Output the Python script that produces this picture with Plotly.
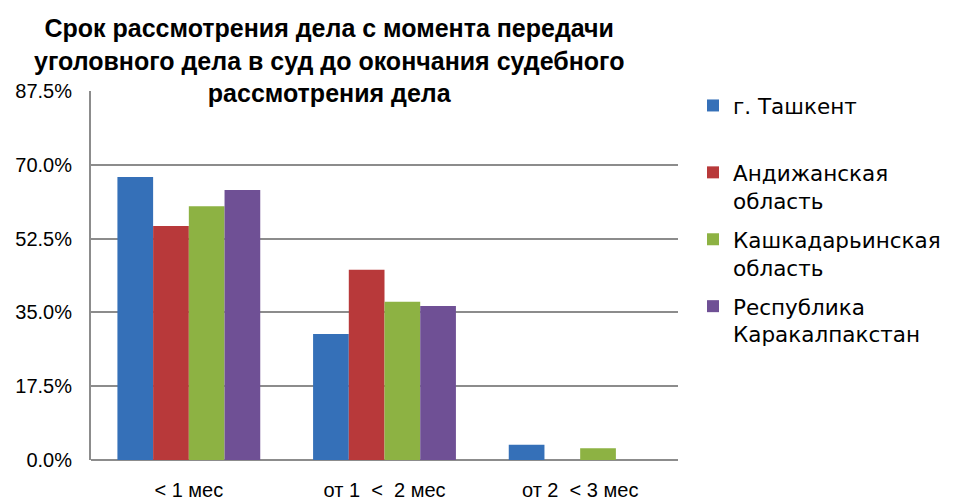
import plotly.graph_objects as go

categories = ["< 1 мес", "от 1\u00a0\u00a0<\u00a0\u00a02 мес", "от 2\u00a0\u00a0< 3 мес"]
series_names = ["г. Ташкент<br> ", "Андижанская<br>область", "Кашкадарьинская<br>область", "Республика<br>Каракалпакстан"]
tashkent = [67.1, 29.9, 3.6]
andijan = [55.5, 45.1, 0.0]
kashkadarya = [60.2, 37.5, 2.8]
karakalpakstan = [64.0, 36.5, 0.0]
colors = ["#3570B8", "#B8393A", "#8DB243", "#6F5095"]
y_ticks = [0, 17.5, 35, 52.5, 70, 87.5]
y_tick_labels = ["0.0%", "17.5%", "35.0%", "52.5%", "70.0%", "87.5%"]
title_text = "Срок рассмотрения дела с момента передачи<br>уголовного дела в суд до окончания судебного<br>рассмотрения дела"

# The page body adds an 8px margin, so the figure is 8px smaller on each axis
# and its margins are shifted accordingly.
fig = go.Figure()
for i, (name, vals) in enumerate(zip(series_names, [tashkent, andijan, kashkadarya, karakalpakstan])):
    fig.add_trace(go.Bar(
        x=categories, y=vals, name=name, legendgroup=f"g{i}",
        marker=dict(color=colors[i], line=dict(width=0)),
    ))

fig.update_layout(
    width=947, height=492,
    margin=dict(l=83, r=277, t=83, b=40, autoexpand=False),
    paper_bgcolor="white", plot_bgcolor="white",
    barmode="group", bargap=0.27, bargroupgap=0,
    font=dict(family="Liberation Sans, Arial", color="#000000", size=20),
    xaxis=dict(showgrid=False, showline=False, zeroline=False, ticks="", automargin=False,
               ticklabelstandoff=16, tickfont=dict(size=20)),
    yaxis=dict(range=[0, 87.5], tickvals=y_ticks, ticktext=y_tick_labels, automargin=False,
               showgrid=True, gridcolor="#8C8C8C", gridwidth=2,
               showline=True, linecolor="#8C8C8C", linewidth=2,
               zeroline=True, zerolinecolor="#8C8C8C", zerolinewidth=2,
               ticks="", ticklabelstandoff=13, tickfont=dict(size=20)),
    legend=dict(x=1.0256, xanchor="left", y=1.0163, yanchor="top", maxheight=420,
                font=dict(family="DejaVu Sans", size=21.5, color="#000000"),
                valign="top", tracegroupgap=8, traceorder="grouped"),
    showlegend=True,
    annotations=[dict(text=title_text, xref="paper", yref="paper",
                      x=(329 - 91) / 587, y=(460 - 12) / 369,
                      xanchor="center", yanchor="top", showarrow=False, align="center",
                      font=dict(family="Liberation Sans, Arial", size=25, color="#000000",
                                weight="bold"))],
)

fig.write_html("out.html")
